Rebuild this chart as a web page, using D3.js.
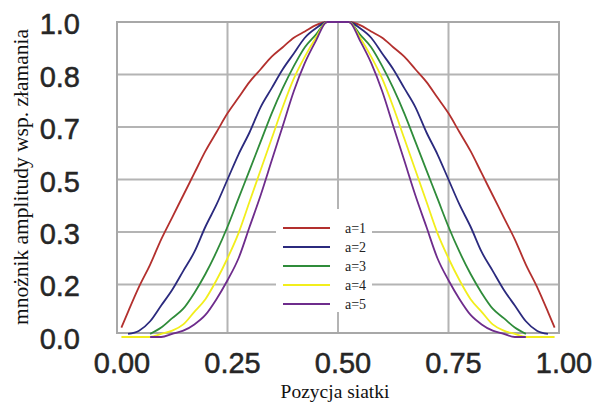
<!DOCTYPE html>
<html><head><meta charset="utf-8">
<script src="https://cdn.jsdelivr.net/npm/d3@7"></script>
<style>html,body{margin:0;padding:0;background:#fff;}svg{display:block;}</style>
</head><body><svg id="c" width="598" height="408"></svg>
<script>
const positions = [0.01,0.025,0.05,0.075,0.1,0.125,0.15,0.175,0.2,0.225,0.25,0.275,0.3,0.325,0.35,0.375,0.4,0.425,0.45,0.475,0.5,
  0.525,0.55,0.575,0.6,0.625,0.65,0.675,0.7,0.725,0.75,0.775,0.8,0.825,0.85,0.875,0.9,0.925,0.95,0.975,0.99];
const seriesNames = ["a=1","a=2","a=3","a=4","a=5"];
const a1 = [0.03,0.08,0.16,0.23,0.31,0.38,0.45,0.52,0.59,0.65,0.71,0.76,0.81,0.85,0.89,0.92,0.95,0.97,0.99,1.00,1.00,
  1.00,0.99,0.97,0.95,0.92,0.89,0.85,0.81,0.76,0.71,0.65,0.59,0.52,0.45,0.38,0.31,0.23,0.16,0.08,0.03];
const a2 = [null,0.01,0.02,0.05,0.10,0.15,0.21,0.27,0.35,0.42,0.50,0.58,0.65,0.73,0.79,0.85,0.90,0.95,0.98,1.00,1.00,
  1.00,0.98,0.95,0.90,0.85,0.79,0.73,0.65,0.58,0.50,0.42,0.35,0.27,0.21,0.15,0.10,0.05,0.02,0.01,null];
const a3 = [null,null,null,0.01,0.03,0.06,0.09,0.14,0.20,0.27,0.35,0.44,0.53,0.62,0.71,0.79,0.86,0.92,0.96,1.00,1.00,
  1.00,0.96,0.92,0.86,0.79,0.71,0.62,0.53,0.44,0.35,0.27,0.20,0.14,0.09,0.06,0.03,0.01,null,null,null];
const a4 = [0.00,0.00,0.00,0.00,0.01,0.02,0.04,0.08,0.12,0.18,0.25,0.33,0.43,0.53,0.63,0.73,0.82,0.89,0.95,1.00,1.00,
  1.00,0.95,0.89,0.82,0.73,0.63,0.53,0.43,0.33,0.25,0.18,0.12,0.08,0.04,0.02,0.01,0.00,0.00,0.00,0.00];
const a5 = [null,null,null,0.00,0.00,0.01,0.02,0.04,0.07,0.12,0.18,0.25,0.35,0.45,0.56,0.67,0.78,0.87,0.94,1.00,1.00,
  1.00,0.94,0.87,0.78,0.67,0.56,0.45,0.35,0.25,0.18,0.12,0.07,0.04,0.02,0.01,0.00,0.00,null,null,null];
const seriesColors = ["#b3302e","#2b2a7e","#2f8c3a","#f2ee1c","#6e2c8c"];
const xTicks = [0,0.25,0.5,0.75,1.0];
const xTickLabels = ["0.00","0.25","0.50","0.75","1.00"];
const yTicks = [0,0.1667,0.3333,0.5,0.6667,0.8333,1.0];
const yTickLabels = ["0.0","0.2","0.3","0.5","0.7","0.8","1.0"];
const xTitle = "Pozycja siatki";
const yTitle = "mnożnik amplitudy wsp. złamania";

const svg = d3.select("#c");
const x = d3.scaleLinear().domain([0,1]).range([117,559]);
const y = d3.scaleLinear().domain([0,1]).range([337,22]);
const frameBottom = y(0) - 4;
const gridColor = "#b4b4b4";

// grid
const g = svg.append("g");
g.selectAll("line.v").data(xTicks).join("line")
  .attr("x1",d=>x(d)).attr("x2",d=>x(d)).attr("y1",y(1)).attr("y2",frameBottom)
  .attr("stroke",gridColor).attr("stroke-width",2);
g.selectAll("line.h").data(yTicks.filter(t=>t>0)).join("line")
  .attr("x1",x(0)).attr("x2",x(1)).attr("y1",d=>y(d)).attr("y2",d=>y(d))
  .attr("stroke",gridColor).attr("stroke-width",2);
g.append("rect").attr("x",x(0)).attr("y",y(1)).attr("width",x(1)-x(0)).attr("height",frameBottom-y(1))
  .attr("fill","none").attr("stroke","#a8a8a8").attr("stroke-width",2);

// tick labels
svg.append("g").selectAll("text").data(yTicks).join("text")
  .attr("x",80).attr("y",(d)=>y(d)+2).attr("text-anchor","end").attr("dominant-baseline","central")
  .attr("font-family","Liberation Sans, Arial, sans-serif").attr("font-size",29).attr("fill","#262626")
  .attr("stroke","#262626").attr("stroke-width",0.5)
  .text((d,i)=>yTickLabels[i]);
svg.append("g").selectAll("text").data(xTicks).join("text")
  .attr("x",d=>x(d)+5).attr("y",373).attr("text-anchor","middle")
  .attr("font-family","Liberation Sans, Arial, sans-serif").attr("font-size",29).attr("fill","#262626")
  .attr("stroke","#262626").attr("stroke-width",0.5)
  .text((d,i)=>xTickLabels[i]);

// titles
svg.append("text").attr("x",335).attr("y",398).attr("text-anchor","middle")
  .attr("font-family","Liberation Serif, Times New Roman, serif").attr("font-size",19.5).attr("fill","#111")
  .text(xTitle);
svg.append("text").attr("transform","translate(28,177) rotate(-90)").attr("text-anchor","middle")
  .attr("font-family","Liberation Serif, Times New Roman, serif").attr("font-size",21.5).attr("fill","#111")
  .text(yTitle);

// lines
const allSeries = [a1,a2,a3,a4,a5];
const line = d3.line().defined(d=>d[1]!==null).x(d=>x(d[0])).y(d=>y(d[1])).curve(d3.curveMonotoneX);
svg.append("g").selectAll("path").data(allSeries).join("path")
  .attr("d",s=>line(positions.map((p,i)=>[p,s[i]])))
  .attr("fill","none").attr("stroke",(d,i)=>seriesColors[i]).attr("stroke-width",1.8);

// legend
const lg = svg.append("g");
lg.append("rect").attr("x",276).attr("y",209).attr("width",96).attr("height",103).attr("fill","#fff");
const rows = lg.selectAll("g").data(seriesNames).join("g")
  .attr("transform",(d,i)=>`translate(0,${228+i*19})`);
rows.append("line").attr("x1",283).attr("x2",330).attr("y1",0).attr("y2",0)
  .attr("stroke",(d,i)=>seriesColors[i]).attr("stroke-width",2.2);
rows.append("text").attr("x",345).attr("y",0).attr("dominant-baseline","central")
  .attr("font-family","Liberation Serif, Times New Roman, serif").attr("font-size",14).attr("fill","#222")
  .text(d=>d);
</script></body></html>
